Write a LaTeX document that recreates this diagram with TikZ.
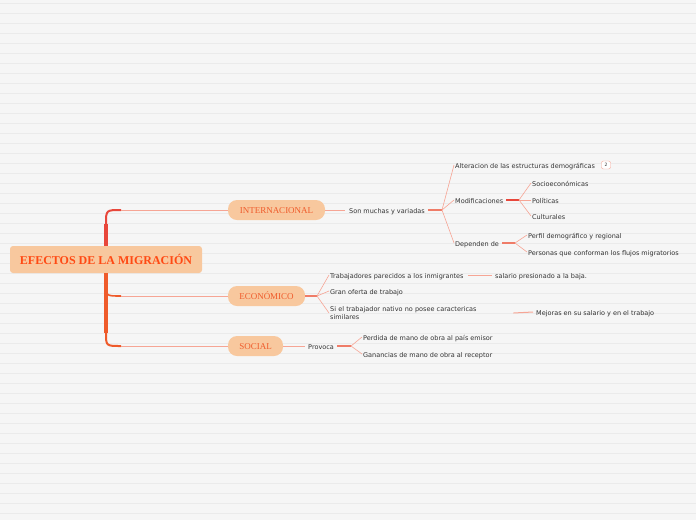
\documentclass[tikz,border=0pt]{standalone}
\usepackage{fontspec}
\setmainfont{Liberation Serif}
\newfontfamily\leaffont{DejaVu Sans}
\usepackage{tikz}
\usetikzlibrary{positioning}

\definecolor{bgcol}{HTML}{F6F6F6}
\definecolor{ruled}{HTML}{EBEBEB}
\definecolor{peach}{HTML}{F8C89E}
\definecolor{rootred}{HTML}{FF4A14}
\definecolor{trunkred}{HTML}{E8473B}
\definecolor{trunkorange}{HTML}{EF5B2B}
\definecolor{thinline}{HTML}{F6A595}
\definecolor{stub}{HTML}{EF7C68}
\definecolor{leafgray}{HTML}{333333}

\begin{document}
\begin{tikzpicture}[x=1pt,y=-1pt,
  rootbox/.style={fill=peach, rounded corners=3pt, text=rootred,
    font=\fontsize{12}{13}\selectfont\bfseries, minimum width=192pt, minimum height=27pt, inner sep=0pt},
  topic/.style={fill=peach, rounded corners=9pt, text=trunkorange,
    font=\fontsize{9}{10}\selectfont, minimum height=20pt, inner sep=0pt, text height=7.5pt, text depth=0pt},
  leaf/.style={anchor=west, text=leafgray, font=\leaffont\fontsize{6.5}{8}\selectfont, inner sep=1pt,
    text height=6.8pt, text depth=0.5pt},
  thin/.style={draw=thinline, line width=0.6pt},
  stubline/.style={draw=stub, line width=1.4pt},
  badge/.style={draw=thinline, fill=white, rounded corners=2pt, text=leafgray,
    font=\leaffont\fontsize{4.5}{5}\selectfont, minimum width=9pt, minimum height=8pt, inner sep=0pt}
]
  \useasboundingbox (0,0) rectangle (696,520);
  \fill[bgcol] (0,0) rectangle (696,520);
  \foreach \y in {3,13,...,513} \draw[ruled, line width=0.8pt] (0,\y) -- (696,\y);

  % centre and main topics
  \node[rootbox] (root) at (106,259.5) {EFECTOS DE LA MIGRACIÓN};
  \node[topic, minimum width=97pt] (intl) at (276.5,210) {INTERNACIONAL};
  \node[topic, minimum width=77pt] (econ) at (266.5,296) {ECONÓMICO};
  \node[topic, minimum width=55pt] (social) at (255.5,346) {SOCIAL};

  % trunk
  \draw[trunkred, line width=4pt] (root.north) -- (106,224) coordinate (ctop);
  \draw[trunkred, line width=2pt] (ctop) .. controls (106,210) .. (121,210) coordinate (etop);
  \draw[thin] (etop) -- (intl.west);
  \draw[trunkorange, line width=4pt] (root.south) -- (106,333) coordinate (cbot);
  \draw[trunkorange, line width=1.6pt] (106,284) .. controls (106,296) .. (121,296) coordinate (emid);
  \draw[thin] (emid) -- (econ.west);
  \draw[trunkorange, line width=2pt] (cbot) .. controls (106,346) .. (121,346) coordinate (ebot);
  \draw[thin] (ebot) -- (social.west);

  % INTERNACIONAL
  \node[leaf] (muchas) at (348,210) {Son muchas y variadas};
  \draw[thin, line width=1pt] (intl.east) -- ([xshift=-3pt]muchas.west);
  \node[leaf] (alter) at (454,165) {Alteracion de las estructuras demográficas};
  \node[badge] (count) at (606,165) {2};
  \node[leaf] (modif) at (454,200) {Modificaciones};
  \node[leaf] (depen) at (454,243) {Dependen de};
  \coordinate (fanA) at (442,210);
  \draw[stubline] ([xshift=2pt]muchas.east) -- (fanA);
  \foreach \n in {alter,modif,depen} \draw[thin] (fanA) -- (\n.west);

  \node[leaf] (socio) at (531,183) {Socioeconómicas};
  \node[leaf] (polit) at (531,200) {Políticas};
  \node[leaf] (cultu) at (531,216) {Culturales};
  \coordinate (fanB) at (519,200);
  \draw[trunkred, line width=1.4pt] ([xshift=2pt]modif.east) -- (fanB);
  \foreach \n in {socio,polit,cultu} \draw[thin] (fanB) -- (\n.west);

  \node[leaf] (perfil) at (527,235) {Perfil demográfico y regional};
  \node[leaf] (person) at (527,252) {Personas que conforman los flujos migratorios};
  \coordinate (fanC) at (515,243);
  \draw[stubline] ([xshift=2pt]depen.east) -- (fanC);
  \foreach \n in {perfil,person} \draw[thin] (fanC) -- (\n.west);

  % ECONOMICO
  \node[leaf] (trab) at (329,275) {Trabajadores parecidos a los inmigrantes};
  \node[leaf] (gran) at (329,291) {Gran oferta de trabajo};
  \node[leaf, text height=, text depth=, text width=180pt, align=left] (sinat) at (329,313)
    {Si el trabajador nativo no posee caractericas\\similares};
  \coordinate (fanD) at (317,296);
  \draw[stubline] (econ.east) -- (fanD);
  \foreach \n in {trab,gran,sinat} \draw[thin] (fanD) -- (\n.west);
  \node[leaf] (salario) at (494,275) {salario presionado a la baja.};
  \draw[thin, line width=1pt] ([xshift=3pt]trab.east) -- ([xshift=-2pt]salario.west);
  \node[leaf] (mejoras) at (535,312) {Mejoras en su salario y en el trabajo};
  \draw[thin, line width=1pt] ([xshift=2pt]sinat.east) -- ([xshift=-2pt]mejoras.west);

  % SOCIAL
  \node[leaf] (provoca) at (307,346) {Provoca};
  \draw[thin, line width=1pt] (social.east) -- ([xshift=-2pt]provoca.west);
  \node[leaf] (perdida) at (362,337) {Perdida de mano de obra al país emisor};
  \node[leaf] (ganan) at (362,354) {Ganancias de mano de obra al receptor};
  \coordinate (fanE) at (351,346);
  \draw[stubline] ([xshift=2pt]provoca.east) -- (fanE);
  \foreach \n in {perdida,ganan} \draw[thin] (fanE) -- (\n.west);
\end{tikzpicture}
\end{document}
